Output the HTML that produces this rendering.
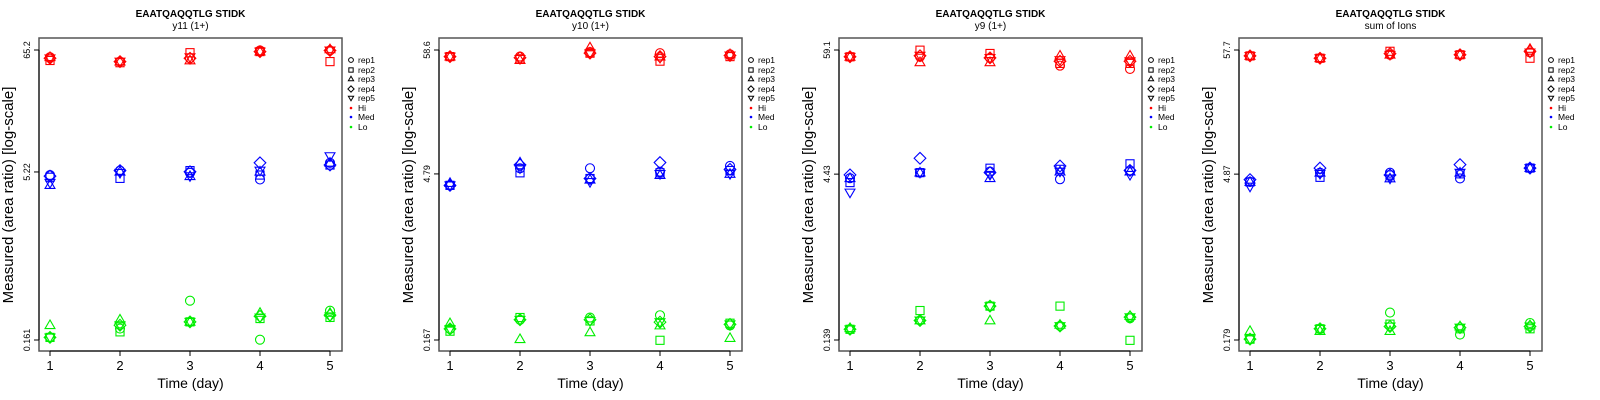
<!DOCTYPE html>
<html><head><meta charset="utf-8"><style>
body{margin:0;background:#fff;width:1600px;height:400px;overflow:hidden}
svg{display:block;font-family:"Liberation Sans",sans-serif}
</style></head><body>
<svg id="chart" width="1600" height="400" viewBox="0 0 1600 400"></svg>
<script>
// Data: log10 of measured area ratio; each day holds [rep1..rep5]
const days = [1,2,3,4,5];
const peptide = "EAATQAQQTLG STIDK";
const panelSubtitles = ["y11 (1+)","y10 (1+)","y9 (1+)","sum of Ions"];
const yTickLabels = [["65.2","5.22","0.161"],["58.6","4.79","0.167"],["59.1","4.43","0.139"],["57.7","4.87","0.179"]];
const levels = ["Hi","Med","Lo"];
const reps = ["rep1","rep2","rep3","rep4","rep5"];

const p1Hi  = [[1.75,1.72,1.75,1.74,1.74],[1.71,1.70,1.71,1.71,1.71],[1.74,1.79,1.72,1.74,1.75],[1.81,1.80,1.80,1.80,1.80],[1.81,1.71,1.82,1.81,1.81]];
const p1Med = [[0.69,0.67,0.60,0.68,0.62],[0.73,0.66,0.72,0.73,0.71],[0.71,0.73,0.68,0.72,0.68],[0.65,0.69,0.72,0.80,0.73],[0.80,0.78,0.80,0.78,0.86]];
const p1Lo  = [[-0.77,-0.77,-0.66,-0.77,-0.77],[-0.69,-0.72,-0.61,-0.66,-0.66],[-0.44,-0.63,-0.63,-0.63,-0.63],[-0.79,-0.60,-0.55,-0.58,-0.59],[-0.53,-0.59,-0.55,-0.57,-0.58]];

const p2Hi  = [[1.71,1.71,1.71,1.71,1.71],[1.71,1.69,1.68,1.70,1.69],[1.75,1.74,1.79,1.74,1.74],[1.74,1.67,1.71,1.71,1.70],[1.73,1.71,1.73,1.72,1.72]];
const p2Med = [[0.58,0.58,0.60,0.58,0.58],[0.73,0.69,0.78,0.76,0.73],[0.73,0.64,0.63,0.64,0.61],[0.70,0.69,0.67,0.78,0.68],[0.75,0.71,0.68,0.72,0.68]];
const p2Lo  = [[-0.68,-0.70,-0.63,-0.68,-0.68],[-0.60,-0.58,-0.77,-0.60,-0.60],[-0.58,-0.61,-0.71,-0.60,-0.61],[-0.56,-0.78,-0.65,-0.62,-0.62],[-0.65,-0.63,-0.76,-0.64,-0.64]];

const p3Hi  = [[1.71,1.71,1.71,1.71,1.71],[1.71,1.77,1.66,1.72,1.72],[1.70,1.74,1.66,1.70,1.70],[1.63,1.65,1.72,1.67,1.68],[1.60,1.65,1.72,1.67,1.67]];
const p3Med = [[0.61,0.57,0.61,0.64,0.48],[0.66,0.66,0.66,0.79,0.66],[0.67,0.70,0.61,0.66,0.64],[0.60,0.69,0.67,0.72,0.67],[0.68,0.74,0.67,0.68,0.64]];
const p3Lo  = [[-0.76,-0.76,-0.75,-0.76,-0.76],[-0.68,-0.59,-0.68,-0.68,-0.68],[-0.55,-0.55,-0.68,-0.55,-0.55],[-0.73,-0.55,-0.72,-0.73,-0.73],[-0.66,-0.86,-0.64,-0.65,-0.65]];

const p4Hi  = [[1.71,1.71,1.71,1.71,1.71],[1.69,1.69,1.69,1.69,1.69],[1.72,1.75,1.72,1.73,1.72],[1.72,1.72,1.72,1.72,1.72],[1.74,1.69,1.77,1.75,1.74]];
const p4Med = [[0.62,0.62,0.62,0.64,0.58],[0.70,0.66,0.70,0.74,0.69],[0.70,0.68,0.65,0.68,0.65],[0.65,0.69,0.70,0.77,0.70],[0.74,0.74,0.74,0.74,0.74]];
const p4Lo  = [[-0.74,-0.74,-0.67,-0.74,-0.74],[-0.65,-0.65,-0.67,-0.65,-0.65],[-0.51,-0.61,-0.67,-0.63,-0.63],[-0.70,-0.65,-0.63,-0.64,-0.64],[-0.60,-0.65,-0.62,-0.63,-0.63]];

const panelData = [[p1Hi,p1Med,p1Lo],[p2Hi,p2Med,p2Lo],[p3Hi,p3Med,p3Lo],[p4Hi,p4Med,p4Lo]];
const levelColors = ["#ff0000","#0000ff","#00ee00"];

const NS="http://www.w3.org/2000/svg";
const svg=document.getElementById('chart');
function mk(tag,attrs,parent){const e=document.createElementNS(NS,tag);for(const k in attrs)e.setAttribute(k,attrs[k]);(parent||svg).appendChild(e);return e;}

function marker(g,shape,x,y,r,color,sw){
  let e;
  if(shape===0) e=mk('circle',{cx:x,cy:y,r:r,fill:'none',stroke:color,'stroke-width':sw},g);
  else if(shape===1) e=mk('rect',{x:x-r*0.9,y:y-r*0.9,width:r*1.8,height:r*1.8,fill:'none',stroke:color,'stroke-width':sw},g);
  else if(shape===2) e=mk('polygon',{points:`${x},${y-r*1.15} ${x-r*1.1},${y+r*0.75} ${x+r*1.1},${y+r*0.75}`,fill:'none',stroke:color,'stroke-width':sw},g);
  else if(shape===3) e=mk('polygon',{points:`${x},${y-r*1.3} ${x+r*1.3},${y} ${x},${y+r*1.3} ${x-r*1.3},${y}`,fill:'none',stroke:color,'stroke-width':sw},g);
  else e=mk('polygon',{points:`${x},${y+r*1.15} ${x-r*1.1},${y-r*0.75} ${x+r*1.1},${y-r*0.75}`,fill:'none',stroke:color,'stroke-width':sw},g);
  return e;
}

for(let p=0;p<4;p++){
  const L=39+p*400, R=L+303, T=38, B=351;
  const g=mk('g',{});
  
  
  const tk=yTickLabels[p].map(s=>Math.log10(parseFloat(s)));
  const lmax=tk[0], lmin=tk[2];
  const yS=v=>50+(lmax-v)/(lmax-lmin)*290;
  const xS=d=>L+11+(d-1)*70;
  const cx=(L+R)/2;
  const t1=mk('text',{x:cx,y:17,'text-anchor':'middle','font-size':10,'font-weight':'bold'},g);t1.textContent=peptide;
  
  
  const t2=mk('text',{x:cx,y:29,'text-anchor':'middle','font-size':10},g);t2.textContent=panelSubtitles[p];
  
  
  const box=mk('rect',{x:L,y:T,width:R-L,height:B-T,fill:'none',stroke:'#555','stroke-width':1.5},g);
  
  
  days.forEach(d=>{
    mk('line',{x1:xS(d),x2:xS(d),y1:B,y2:B+5,stroke:'#000'},g);
    const t=mk('text',{x:xS(d),y:370,'text-anchor':'middle','font-size':13},g);t.textContent=d;
    
    
  });
  mk('line',{x1:xS(1),x2:xS(5),y1:B,y2:B,stroke:'#000'},g);
  const xt=mk('text',{x:cx,y:388,'text-anchor':'middle','font-size':14},g);xt.textContent="Time (day)";
  
  
  yTickLabels[p].forEach((lab,i)=>{
    const y=yS(tk[i]);
    mk('line',{x1:L-5,x2:L,y1:y,y2:y,stroke:'#000'},g);
    const t=mk('text',{x:0,y:0,'text-anchor':'middle','font-size':9,transform:`translate(${L-9},${y}) rotate(-90)`},g);t.textContent=lab;
    
    
  });
  mk('line',{x1:L,x2:L,y1:yS(lmin),y2:yS(lmax),stroke:'#000'},g);
  const yt=mk('text',{x:0,y:0,'text-anchor':'middle','font-size':15,transform:`translate(${L-26},195) rotate(-90)`},g);yt.textContent="Measured (area ratio) [log-scale]";
  
  
  panelData[p].forEach((lev,li)=>{
    lev.forEach((vals,di)=>{
      vals.forEach((v,ri)=>{
        const m=marker(g,ri,xS(days[di]),yS(v),4.5,levelColors[li],1.1);
        
        
      });
    });
  });
  // legend
  const lg=mk('g',{},g);
  
  
  const lx=R+9;
  const rowsY=[60,70,79,89,98,108,117,127];
  reps.forEach((r,i)=>{
    marker(lg,i,lx,rowsY[i],2.4,'#000',1);
    const t=mk('text',{x:lx+7,y:rowsY[i]+3,'font-size':8.5},lg);t.textContent=r;
    
    
  });
  levels.forEach((lv,i)=>{
    mk('circle',{cx:lx,cy:rowsY[5+i],r:1.3,fill:levelColors[i]},lg);
    const t=mk('text',{x:lx+7,y:rowsY[5+i]+3,'font-size':8.5},lg);t.textContent=lv;
    
    
  });
}
</script>
</body></html>
